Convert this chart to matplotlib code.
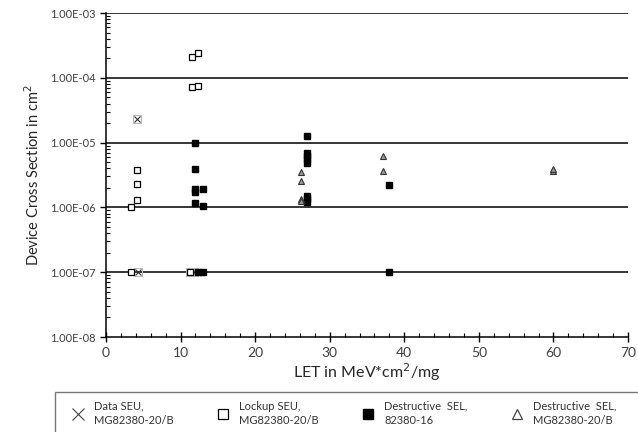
import matplotlib

matplotlib.use("Agg")
import matplotlib.pyplot as plt
from matplotlib.lines import Line2D
from matplotlib.ticker import FixedLocator, LogLocator, NullFormatter

plt.rcParams["font.family"] = ["Lato", "DejaVu Sans"]

# Data SEU, MG82380-20/B
data_seu_let = [4.2, 4.3, 11.3, 11.8]
data_seu_xs = [2.3e-5, 1e-7, 1e-7, 1e-7]

# Lockup SEU, MG82380-20/B
lockup_let = [3.4, 4.2, 4.2, 4.2, 11.5, 12.3, 11.5, 12.3, 3.4, 11.2]
lockup_xs = [1e-6, 1.32e-6, 2.3e-6, 3.8e-6, 2.07e-4, 2.44e-4, 7.3e-5, 7.6e-5, 1e-7, 1e-7]

# Destructive SEL, 82380-16
dsel16_let = [11.9, 11.9, 11.9, 11.9, 11.9, 13.0, 13.0,
              26.9, 26.9, 26.9, 26.9, 26.9, 26.9, 26.9, 26.9,
              38.0, 38.0, 12.4, 13.0]
dsel16_xs = [1e-5, 3.9e-6, 1.9e-6, 1.75e-6, 1.18e-6, 1.95e-6, 1.04e-6,
             1.25e-5, 7.0e-6, 6.2e-6, 5.5e-6, 4.8e-6, 1.5e-6, 1.35e-6, 1.2e-6,
             2.2e-6, 1e-7, 1e-7, 1e-7]

# Destructive SEL, MG82380-20/B
dselmg_let = [26.2, 26.2, 26.2, 26.2, 37.2, 37.2, 60.0, 60.0]
dselmg_xs = [3.5e-6, 2.6e-6, 1.35e-6, 1.25e-6, 6.2e-6, 3.6e-6, 3.6e-6, 3.9e-6]

y_ticks = [1e-8, 1e-7, 1e-6, 1e-5, 1e-4, 1e-3]
y_labels = ["1.00E-08", "1.00E-07", "1.00E-06", "1.00E-05", "1.00E-04", "1.00E-03"]

fig = plt.figure(figsize=(6.38, 4.32), dpi=100)
ax = fig.add_axes([106 / 638, 1 - 337 / 432, 522 / 638, 324 / 432])
ax.set_yscale("log")
ax.set_xlim(0, 70)
ax.set_ylim(1e-8, 1e-3)

# gridlines at decades
for yv in y_ticks[1:]:
    ax.axhline(yv, color="black", linewidth=1.1, zorder=1)

ms = 4
ax.plot(data_seu_let, data_seu_xs, ls="none", marker="s", ms=ms + 1.5,
        mfc="none", mec="#bbbbbb", mew=0.8, zorder=3)
ax.plot(data_seu_let, data_seu_xs, ls="none", marker="x", ms=ms,
        color="#333333", mew=0.8, zorder=4)
ax.plot(lockup_let, lockup_xs, ls="none", marker="s", ms=ms,
        mfc="white", mec="black", mew=0.9, zorder=4)
ax.plot(dsel16_let, dsel16_xs, ls="none", marker="s", ms=ms + 0.5,
        mfc="black", mec="black", zorder=5)
ax.plot(dselmg_let, dselmg_xs, ls="none", marker="^", ms=ms,
        mfc="#999999", mec="#333333", mew=0.8, zorder=5)

ax.yaxis.set_major_locator(FixedLocator(y_ticks))
ax.set_yticklabels(y_labels)
ax.yaxis.set_minor_locator(LogLocator(base=10, subs=range(2, 10), numticks=20))
ax.yaxis.set_minor_formatter(NullFormatter())
ax.xaxis.set_major_locator(FixedLocator(range(0, 71, 10)))
ax.xaxis.set_minor_locator(FixedLocator(range(0, 71, 2)))

ax.tick_params(axis="y", which="major", direction="out", length=4, width=1,
               labelsize=8, labelcolor="#404040")
ax.tick_params(axis="y", which="minor", direction="in", length=3, width=0.8)
ax.tick_params(axis="x", which="major", direction="inout", length=7, width=1,
               labelsize=10, labelcolor="#404040")
ax.tick_params(axis="x", which="minor", direction="in", length=3, width=0.8)

for side in ("top", "right"):
    ax.spines[side].set_visible(False)
for side in ("left", "bottom"):
    ax.spines[side].set_linewidth(1.1)

ax.set_xlabel("LET in MeV*cm$^2$/mg", fontsize=11.5, color="#262626", labelpad=2)
ax.set_ylabel("Device Cross Section in cm$^2$", fontsize=10.5, color="#262626",
              labelpad=6)

handles = [
    Line2D([], [], ls="none", marker="x", ms=8, color="#444444", mew=0.8),
    Line2D([], [], ls="none", marker="s", ms=7, mfc="white", mec="black", mew=0.9),
    Line2D([], [], ls="none", marker="s", ms=7, mfc="black", mec="black"),
    Line2D([], [], ls="none", marker="^", ms=7, mfc="white", mec="#444444", mew=0.9),
]
labels = [
    "Data SEU,\nMG82380-20/B",
    "Lockup SEU,\nMG82380-20/B",
    "Destructive  SEL,\n82380-16",
    "Destructive  SEL,      \nMG82380-20/B",
]
leg = fig.legend(handles, labels, ncol=4, loc="upper left",
                 bbox_to_anchor=(55 / 638, 1 - 392 / 432),
                 fontsize=8, frameon=True, fancybox=False,
                 edgecolor="#555555", handlelength=2.5, handletextpad=0.2,
                 columnspacing=3.2, borderpad=0.8, labelspacing=0.2,
                 borderaxespad=0)
leg.get_frame().set_linewidth(1.0)
for t in leg.get_texts():
    t.set_color("#333333")
    t.set_linespacing(1.35)

fig.savefig("out.png", dpi=100)
